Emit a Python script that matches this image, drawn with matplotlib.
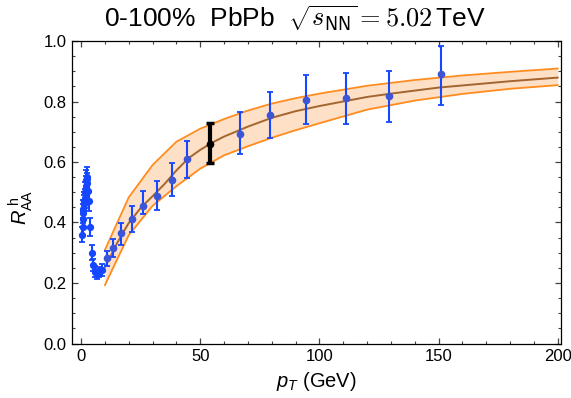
import numpy as np
import matplotlib
matplotlib.use('Agg')
import matplotlib.pyplot as plt
from matplotlib.ticker import MultipleLocator

plt.rcParams['font.family'] = ['Liberation Sans', 'DejaVu Sans']
plt.rcParams['mathtext.fontset'] = 'custom'
plt.rcParams['mathtext.rm'] = 'Liberation Sans'
plt.rcParams['mathtext.it'] = 'Liberation Sans:italic'
plt.rcParams['mathtext.sf'] = 'Liberation Sans'
plt.rcParams['mathtext.bf'] = 'Liberation Sans:bold'

# ---------------- data ----------------
# low-pT measurement (blue)
low_pt = [0.55, 0.65, 0.75, 0.85, 0.95, 1.1, 1.3, 1.5, 1.7, 1.9, 2.1, 2.3, 2.5,
          2.8, 3.2, 3.8, 4.5, 5.2, 5.9, 6.6, 7.7, 8.7]
low_r = [0.36, 0.385, 0.41, 0.43, 0.445, 0.46, 0.47, 0.48, 0.50, 0.52, 0.54, 0.55,
         0.53, 0.505, 0.47, 0.385, 0.30, 0.26, 0.237, 0.229, 0.237, 0.243]
low_err = [0.025, 0.025, 0.028, 0.03, 0.03, 0.03, 0.032, 0.032, 0.033, 0.035, 0.035,
           0.035, 0.035, 0.034, 0.032, 0.03, 0.025, 0.02, 0.018, 0.017, 0.017, 0.02]

# high-pT measurement (blue)
high_pt = [10.8, 13.3, 16.6, 21.5, 26.1, 31.7, 38.0, 44.6, 66.7, 79.2, 94.2, 111.1, 129.3, 151.2]
high_r = [0.281, 0.315, 0.364, 0.412, 0.456, 0.488, 0.541, 0.61, 0.694, 0.754, 0.806, 0.81, 0.818, 0.89]
high_lo = [0.256, 0.285, 0.326, 0.37, 0.429, 0.44, 0.487, 0.547, 0.625, 0.679, 0.724, 0.725, 0.732, 0.79]
high_hi = [0.307, 0.344, 0.397, 0.453, 0.503, 0.538, 0.597, 0.669, 0.764, 0.831, 0.888, 0.894, 0.902, 0.985]

# highlighted point (black)
black_pt = [54.1]
black_r = [0.661]
black_lo = [0.596]
black_hi = [0.728]

# theory band edges
band_pt = [10, 20, 30, 40, 50, 60, 70, 80, 90, 100, 120, 140, 160, 180, 200]
band_upper = [0.309, 0.483, 0.590, 0.667, 0.710, 0.742, 0.770, 0.793, 0.811, 0.826,
              0.852, 0.871, 0.886, 0.898, 0.909]
band_lower = [0.193, 0.358, 0.455, 0.520, 0.578, 0.622, 0.652, 0.680, 0.705, 0.728,
              0.773, 0.803, 0.825, 0.842, 0.854]

# theory central curve
cen_pt = [10, 12.5, 15, 17.5, 20, 25, 30, 35, 40, 45, 50, 55, 60, 70, 80, 90, 100,
          110, 120, 130, 140, 150, 160, 180, 200]
cen_r = [0.253, 0.29, 0.33, 0.365, 0.398, 0.448, 0.487, 0.527, 0.572, 0.612, 0.640,
         0.664, 0.684, 0.717, 0.746, 0.768, 0.785, 0.800, 0.815, 0.826, 0.836, 0.846,
         0.853, 0.867, 0.879]

# ---------------- figure ----------------
W, H = 571, 398
fig = plt.figure(figsize=(W / 100, H / 100), dpi=100)
ax = fig.add_axes([72 / W, 1 - 343.5 / H, 489 / W, 302.5 / H])

ax.fill_between(band_pt, band_lower, band_upper, color='#fde0c6', lw=0, zorder=1)
ax.plot(band_pt, band_upper, color='#ff8c1f', lw=1.3, zorder=2)
ax.plot(band_pt, band_lower, color='#ff8c1f', lw=1.3, zorder=2)
ax.plot(cen_pt, cen_r, color='#a5652e', lw=1.4, zorder=3)

blue = '#1447ff'
ax.errorbar(low_pt, low_r, yerr=low_err, fmt='o', color=blue, ms=4.2,
            capsize=2.2, elinewidth=1.5, capthick=1.3, zorder=4)
hr = np.array(high_r)
ax.errorbar(high_pt, high_r, yerr=[hr - np.array(high_lo), np.array(high_hi) - hr],
            fmt='o', color=blue, mfc='#3b55d6', mec='#3b55d6', ms=4.5,
            capsize=2.2, elinewidth=1.5, capthick=1.3, zorder=4)
br = np.array(black_r)
ax.errorbar(black_pt, black_r, yerr=[br - np.array(black_lo), np.array(black_hi) - br],
            fmt='o', color='black', ms=4.5, capsize=3, elinewidth=3, capthick=2.5, zorder=5)

ax.set_xlim(-3.8, 201.4)
ax.set_ylim(0, 1.0)
ax.xaxis.set_major_locator(MultipleLocator(50))
ax.xaxis.set_minor_locator(MultipleLocator(10))
ax.yaxis.set_major_locator(MultipleLocator(0.2))
ax.yaxis.set_minor_locator(MultipleLocator(0.05))
ax.yaxis.set_major_formatter(plt.FormatStrFormatter('%.1f'))
ax.tick_params(which='both', direction='in', top=True, right=True, color='#444444',
               labelsize=12)
ax.tick_params(which='major', length=4, width=0.9, pad=4)
ax.tick_params(which='minor', length=2.3, width=0.8)
for s in ax.spines.values():
    s.set_linewidth(0.9)

ax.set_xlabel(r"$p_T$ (GeV)", fontsize=14.5, labelpad=4)
ax.set_ylabel(r"$R_{\mathrm{AA}}^{\ \mathrm{h}}$", fontsize=14.5)
ax.yaxis.set_label_coords(-0.075, 0.45)

fig.text(295 / W, 1 - 18 / H, r"0-100%  PbPb  $\sqrt{s_{\mathsf{NN}}} = 5.02\,$TeV",
         ha='center', va='center', fontsize=19, math_fontfamily='cm')

fig.savefig('out.png', dpi=100)
